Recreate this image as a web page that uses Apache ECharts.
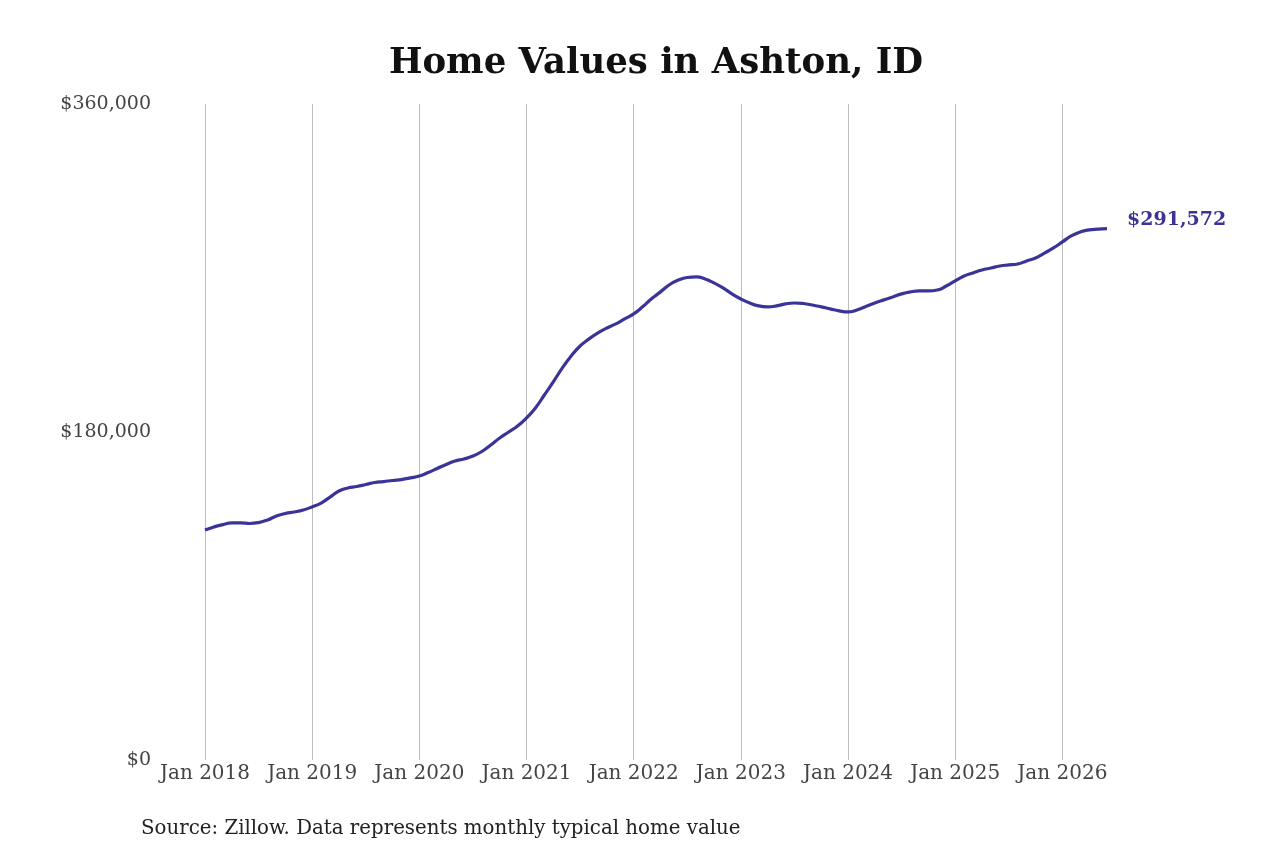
<html>
  <head>
    <meta charset="utf-8" />
    <title>Home Values in Ashton, ID</title>
    <script type="text/javascript" src="https://cdn.jsdelivr.net/npm/echarts@6/dist/echarts.min.js"></script>
    <style>
      html, body { margin: 0; padding: 0; background: #fff; }
    </style>
  </head>
  <body>
    <div id="main" style="width:1280px;height:853px;"></div>
    <script type="text/javascript">
      // monthly typical home value, Jan 2018 .. Jun 2026
      var years = [2018, 2019, 2020, 2021, 2022, 2023, 2024, 2025, 2026];
      var monthNames = ['Jan', 'Feb', 'Mar', 'Apr', 'May', 'Jun', 'Jul', 'Aug', 'Sep', 'Oct', 'Nov', 'Dec'];

      var v2018 = [126200, 127900, 129200, 130100, 130100, 129800, 130300, 131700, 133900, 135300, 136100, 137200];
      var v2019 = [138900, 141000, 144300, 147600, 149300, 150100, 151200, 152300, 152800, 153400, 153900, 154800];
      var v2020 = [155900, 157800, 160000, 162200, 164100, 165200, 166800, 169300, 172900, 176700, 180000, 183300];
      var v2021 = [187700, 193200, 200300, 207500, 215100, 221700, 227200, 231100, 234400, 237100, 239300, 242100];
      var v2022 = [244800, 248700, 253100, 256900, 260800, 263400, 264800, 265100, 264000, 261800, 259100, 255800];
      var v2023 = [253000, 250800, 249200, 248700, 249200, 250300, 250800, 250500, 249700, 248700, 247600, 246500];
      var v2024 = [245900, 247000, 248900, 250800, 252500, 254100, 255800, 256900, 257400, 257400, 257900, 260100];
      var v2025 = [262900, 265600, 267300, 268900, 270000, 271100, 271700, 272200, 273900, 275500, 278200, 281000];
      var v2026 = [284300, 287600, 289800, 290900, 291300, 291572];

      var yTicks = [0, 180000, 360000];

      var values = [].concat(v2018, v2019, v2020, v2021, v2022, v2023, v2024, v2025, v2026);
      var months = [];
      years.forEach(function (y) {
        monthNames.forEach(function (m) {
          if (months.length < values.length) months.push(m + ' ' + y);
        });
      });

      var isJan = function (index) { return index % 12 === 0; };
      var money = function (v) { return '$' + Math.round(v).toLocaleString('en-US'); };

      var myChart = echarts.init(document.getElementById('main'));
      var option = {
        backgroundColor: '#ffffff',
        animation: false,
        title: {
          text: 'Home Values in Ashton, ID',
          left: 651,
          top: 41,
          textAlign: 'center',
          textStyle: {
            fontFamily: 'DejaVu Serif',
            fontWeight: 'bold',
            fontSize: 35.5,
            color: '#111111'
          }
        },
        grid: {
          left: 205,
          right: 173,
          top: 104,
          bottom: 93,
          containLabel: false
        },
        xAxis: {
          type: 'category',
          data: months,
          boundaryGap: false,
          axisLine: { show: false },
          axisTick: { show: false },
          axisLabel: {
            interval: isJan,
            margin: 4,
            fontFamily: 'DejaVu Serif',
            fontSize: 20,
            color: '#444444'
          },
          splitLine: {
            show: true,
            interval: isJan,
            lineStyle: { color: '#bdbdbd', width: 1 }
          }
        },
        yAxis: {
          type: 'value',
          min: yTicks[0],
          max: yTicks[yTicks.length - 1],
          interval: yTicks[1] - yTicks[0],
          axisLine: { show: false },
          axisTick: { show: false },
          splitLine: { show: false },
          axisLabel: {
            margin: 54,
            fontFamily: 'DejaVu Serif',
            fontSize: 19,
            color: '#444444',
            formatter: money
          }
        },
        series: [
          {
            name: 'Typical home value',
            type: 'line',
            data: values,
            smooth: true,
            showSymbol: false,
            lineStyle: { color: '#3b3498', width: 3.2 },
            itemStyle: { color: '#3b3498' },
            endLabel: {
              show: true,
              formatter: function (p) { return money(p.value); },
              offset: [12, -9],
              fontFamily: 'DejaVu Serif',
              fontWeight: 'bold',
              fontSize: 19,
              color: '#3b3498'
            }
          }
        ],
        graphic: [
          {
            type: 'text',
            left: 141,
            top: 819,
            style: {
              text: 'Source: Zillow. Data represents monthly typical home value',
              fontFamily: 'DejaVu Serif',
              fontSize: 19.8,
              fill: '#222222'
            }
          }
        ]
      };
      myChart.setOption(option);
    </script>
  </body>
</html>
